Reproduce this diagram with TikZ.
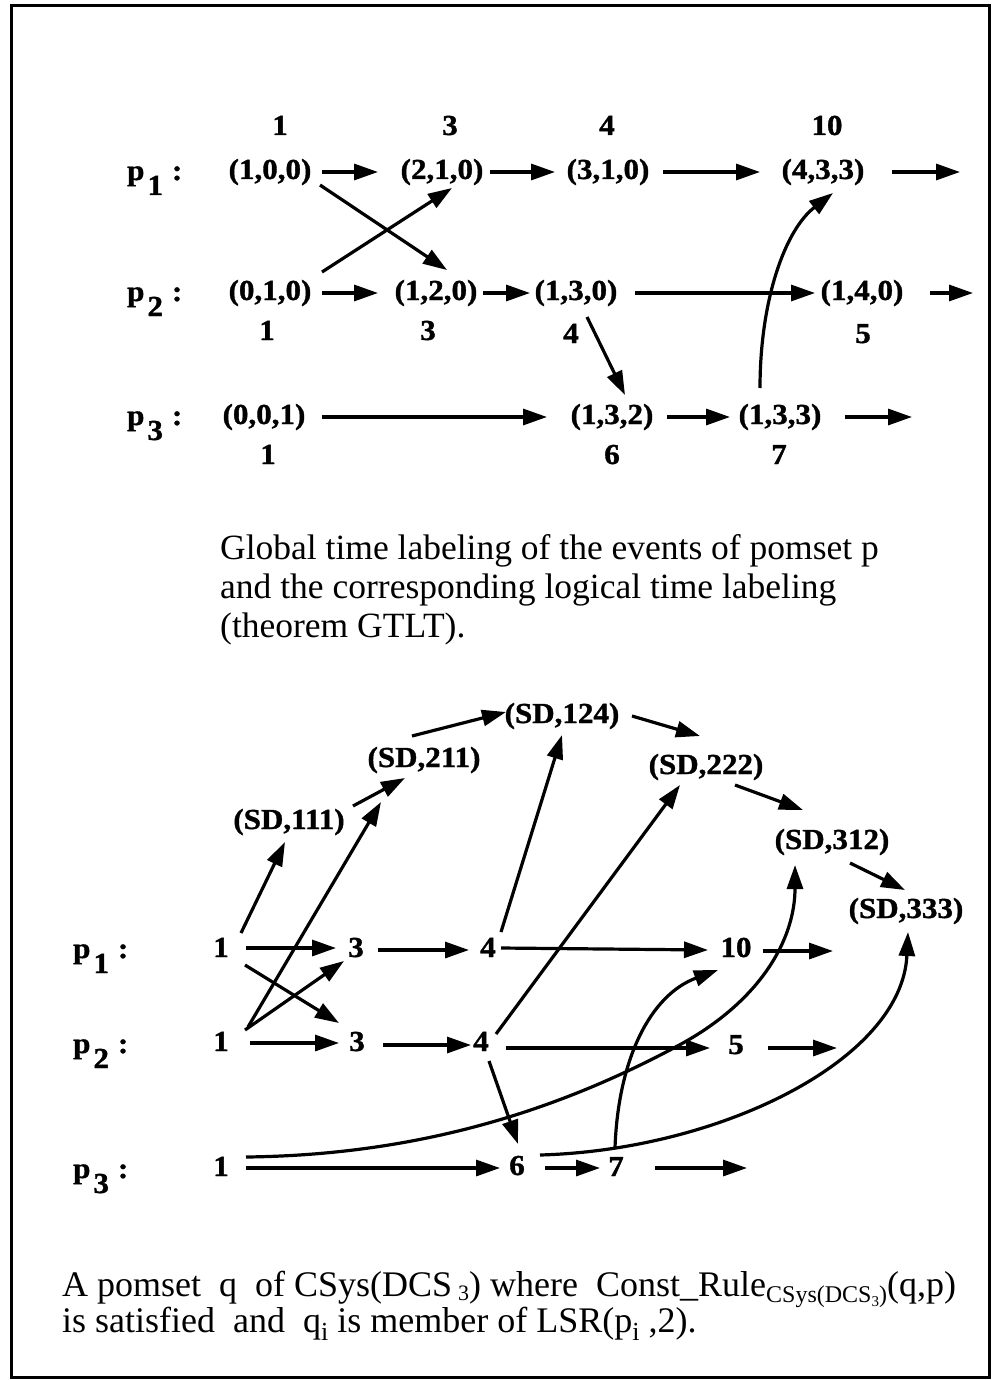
\documentclass[tikz,border=0pt]{standalone}
\usepackage{fontspec}
\setmainfont{Liberation Serif}
\newfontfamily\lblfont[FakeStretch=1.07, BoldFeatures={FakeBold=1.2}]{Liberation Serif}
\usetikzlibrary{arrows.meta,calc}
\newcommand\plab[1]{p\kern3pt\raisebox{-15pt}{#1}\kern9pt:}
\newcommand\sbt[3]{\raisebox{-#1pt}{\fontsize{#2}{#2}\selectfont #3}}
\newcommand\ssbt[1]{\raisebox{-4pt}{\fontsize{15}{15}\selectfont #1}}
\begin{document}
\begin{tikzpicture}[x=1pt,y=-1pt,
  lbl/.style={font=\lblfont\bfseries\fontsize{29}{31}\selectfont, inner sep=0pt, text height=20pt, text depth=6pt},
  plbl/.style={font=\lblfont\bfseries\fontsize{29}{31}\selectfont, inner sep=0pt, anchor=base west},
  captxt/.style={font=\fontsize{35.5}{39}\selectfont, inner sep=0pt, anchor=base west},
  captxtb/.style={font=\fontsize{36}{39}\selectfont, inner sep=0pt, anchor=base west},
  arr/.style={line width=3.2pt, -{Triangle[length=24pt,width=16pt]}},
  framebox/.style={line width=3pt}]
\useasboundingbox (0,0) rectangle (995,1380);
\draw[framebox] (11,6) rectangle (989,1377);

% ---------- top diagram ----------
\node[plbl] (pa1) at (127,180) {\plab{1}};
\node[plbl] (pa2) at (127,301) {\plab{2}};
\node[plbl] (pa3) at (127,425) {\plab{3}};

\node[lbl] (t1) at (280,128) {1};
\node[lbl] (t3) at (450,128) {3};
\node[lbl] (t4) at (607,128) {4};
\node[lbl] (t10) at (827,128) {10};

\node[lbl] (n1) at (270,172) {(1,0,0)};
\node[lbl] (n2) at (442,172) {(2,1,0)};
\node[lbl] (n3) at (608,172) {(3,1,0)};
\node[lbl] (n4) at (823,172) {(4,3,3)};

\node[lbl] (m1) at (270,293) {(0,1,0)};
\node[lbl] (m2) at (436,293) {(1,2,0)};
\node[lbl] (m3) at (576,293) {(1,3,0)};
\node[lbl] (m4) at (862,293) {(1,4,0)};

\node[lbl] (b1) at (267,333) {1};
\node[lbl] (b3) at (428,333) {3};
\node[lbl] (b4) at (571,336) {4};
\node[lbl] (b5) at (863,336) {5};

\node[lbl] (r1) at (264,417) {(0,0,1)};
\node[lbl] (r2) at (612,417) {(1,3,2)};
\node[lbl] (r3) at (780,417) {(1,3,3)};

\node[lbl] (c1) at (268,457) {1};
\node[lbl] (c6) at (612,457) {6};
\node[lbl] (c7) at (779,457) {7};

\coordinate (e1) at (960,172);
\coordinate (e2) at (973,293);
\coordinate (e3) at (912,417);

\draw[arr] ($(n1)+(52,0)$) -- ($(n2)+(-64,0)$);
\draw[arr] ($(n2)+(48,0)$) -- ($(n3)+(-53,0)$);
\draw[arr] ($(n3)+(55,0)$) -- ($(n4)+(-63,0)$);
\draw[arr] ($(n4)+(69,0)$) -- (e1);

\draw[arr] ($(m1)+(52,0)$) -- ($(m2)+(-58,0)$);
\draw[arr] ($(m2)+(47,0)$) -- ($(m3)+(-46,0)$);
\draw[arr] ($(m3)+(59,0)$) -- ($(m4)+(-47,0)$);
\draw[arr] ($(m4)+(68,0)$) -- (e2);

\draw[arr] ($(r1)+(58,0)$) -- ($(r2)+(-65,0)$);
\draw[arr] ($(r2)+(55,0)$) -- ($(r3)+(-50,0)$);
\draw[arr] ($(r3)+(65,0)$) -- (e3);

\draw[arr] ($(n1)+(50,13)$) -- ($(m2)+(11,-23)$);
\draw[arr] ($(m1)+(52,-21)$) -- ($(n2)+(10,16)$);
\draw[arr] ($(m3)+(11,24)$) -- ($(r2)+(13,-22)$);
\draw[arr] ($(r3)+(-20,-29)$) .. controls (760,300) and (785,230) .. ($(n4)+(10,21)$);

% ---------- caption 1 ----------
\node[captxt] (g1) at (220,559) {Global time labeling of the events of pomset p};
\node[captxt] (g2) at (220,598) {and the corresponding logical time labeling};
\node[captxt] (g3) at (220,637) {(theorem GTLT).};

% ---------- bottom diagram ----------
\node[plbl] (pb1) at (73,958) {\plab{1}};
\node[plbl] (pb2) at (73,1053) {\plab{2}};
\node[plbl] (pb3) at (73,1178) {\plab{3}};

\node[lbl] (sd111) at (289,822) {(SD,111)};
\node[lbl] (sd211) at (424,760) {(SD,211)};
\node[lbl] (sd124) at (562,716) {(SD,124)};
\node[lbl] (sd222) at (706,767) {(SD,222)};
\node[lbl] (sd312) at (832,842) {(SD,312)};
\node[lbl] (sd333) at (906,911) {(SD,333)};

\node[lbl] (q11) at (221,950) {1};
\node[lbl] (q12) at (356,950) {3};
\node[lbl] (q13) at (488,950) {4};
\node[lbl] (q14) at (736,950) {10};

\node[lbl] (q21) at (221,1044) {1};
\node[lbl] (q22) at (357,1044) {3};
\node[lbl] (q23) at (481,1044) {4};
\node[lbl] (q24) at (736,1047) {5};

\node[lbl] (q31) at (221,1169) {1};
\node[lbl] (q32) at (517,1168) {6};
\node[lbl] (q33) at (616,1169) {7};

\coordinate (e4) at (833,951);
\coordinate (e5) at (837,1048);
\coordinate (e6) at (747,1168);

\draw[arr] ($(q11)+(20,-17)$) -- ($(sd111)+(-4,20)$);
\draw[arr] ($(q11)+(25,-2)$) -- ($(q12)+(-20,-2)$);
\draw[arr] ($(q11)+(24,15)$) -- ($(q22)+(-18,-21)$);
\draw[arr] ($(q21)+(24,-14)$) -- ($(q12)+(-12,11)$);
\draw[arr] ($(q21)+(27,-17)$) -- ($(sd211)+(-43,42)$);
\draw[arr] ($(q21)+(29,-1)$) -- ($(q22)+(-18,-1)$);

\draw[arr] ($(sd111)+(64,-16)$) -- ($(sd211)+(-19,18)$);
\draw[arr] ($(sd211)+(-12,-24)$) -- ($(sd124)+(-56,-4)$);
\draw[arr] ($(sd124)+(70,0)$) -- ($(sd222)+(-6,-31)$);
\draw[arr] ($(sd222)+(29,18)$) -- ($(sd312)+(-29,-32)$);
\draw[arr] ($(sd312)+(18,21)$) -- ($(sd333)+(-1,-21)$);

\draw[arr] ($(q12)+(22,0)$) -- ($(q13)+(-19,0)$);
\draw[arr] ($(q13)+(13,-18)$) -- ($(sd124)+(0,19)$);
\draw[arr] ($(q13)+(13,-2)$) -- ($(q14)+(-28,0)$);
\draw[arr] ($(q14)+(27,1)$) -- (e4);

\draw[arr] ($(q22)+(26,1)$) -- ($(q23)+(-10,1)$);
\draw[arr] ($(q23)+(15,-10)$) -- ($(sd222)+(-26,18)$);
\draw[arr] ($(q23)+(25,4)$) -- ($(q24)+(-26,1)$);
\draw[arr] ($(q24)+(32,1)$) -- (e5);
\draw[arr] ($(q23)+(8,17)$) -- ($(q32)+(1,-24)$);

\draw[arr] ($(q31)+(25,-1)$) -- ($(q32)+(-17,0)$);
\draw[arr] ($(q31)+(25,-12)$) .. controls (420,1155) and (560,1110) .. (683,1043)
   .. controls (760,1000) and (795,940) .. ($(sd312)+(-37,23)$);
\draw[arr] ($(q32)+(28,0)$) -- ($(q33)+(-16,-1)$);
\draw[arr] ($(q33)+(39,-1)$) -- (e6);
\draw[arr] ($(q33)+(-1,-21)$) .. controls (618,1060) and (650,995) .. ($(q14)+(-18,20)$);
\draw[arr] ($(q32)+(23,-13)$) .. controls (720,1150) and (902,1060) .. ($(sd333)+(2,21)$);

% ---------- caption 2 ----------
\node[captxtb] (h1) at (62,1296) {A pomset\ \ q\ \ of CSys(DCS\,\sbt{4}{22}{3}) where\ \ Const\_Rule\sbt{6}{24}{CSys(DCS\ssbt{3})}(q,p)};
\node[captxtb] (h2) at (62,1332) {is satisfied\ \ and\ \ q\sbt{8}{26}{i} is member of LSR(p\sbt{8}{26}{i} ,2).};
\end{tikzpicture}
\end{document}
